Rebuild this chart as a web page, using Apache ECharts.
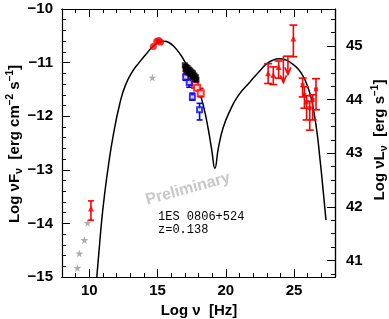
<!DOCTYPE html>
<html><head><meta charset="utf-8">
<script src="https://cdn.jsdelivr.net/npm/echarts@6/dist/echarts.min.js"></script>
<style>html,body{margin:0;padding:0;background:#fff}#c{width:389px;height:319px}</style>
</head><body><div id="c"></div>
<script>
// ---- data (log nu [Hz], log nuFnu) ----
const xMajorTicks = [10, 15, 20, 25];
const xMinorTicks = [8,9,10,11,12,13,14,15,16,17,18,19,20,21,22,23,24,25,26,27,28];
const rightMajorTicks = [41, 42, 43, 44, 45];
const rightMinorTicks = [40.75,41,41.25,41.5,41.75,42,42.25,42.5,42.75,43,43.25,43.5,43.75,44,44.25,44.5,44.75,45,45.25,45.5];
const lumOffset = 55.69; // log nuL_nu = log nuF_nu + offset

const modelCurve = [[10.55,-15.0],[10.7,-14.55],[10.91,-13.94],[11.1,-13.5],[11.39,-12.94],[11.76,-12.35],[12.25,-11.75],[12.65,-11.42],[13.2,-11.15],[13.65,-11.0],[14.2,-10.83],[14.7,-10.69],[15.2,-10.61],[15.5,-10.6],[15.8,-10.62],[16.2,-10.7],[16.65,-10.84],[17.1,-11.03],[17.6,-11.28],[18.1,-11.58],[18.4,-11.85],[18.7,-12.22],[18.97,-12.63],[19.2,-12.97],[19.45,-12.6],[19.8,-12.22],[20.3,-11.9],[20.9,-11.62],[21.77,-11.36],[22.5,-11.15],[23.0,-11.02],[23.5,-10.95],[23.9,-10.93],[24.4,-10.95],[24.9,-11.03],[25.3,-11.12],[25.68,-11.26],[26.0,-11.45],[26.29,-11.7],[26.66,-12.26],[26.9,-12.8],[27.1,-13.3],[27.34,-13.94]];

const archivalStars = [[9.12,-14.83],[9.27,-14.56],[9.64,-14.31],[9.88,-13.99],[14.62,-11.28]];
const opticalPts = [[14.69,-10.7],[14.94,-10.6],[15.1,-10.59],[15.22,-10.62]];
// [x, y, yLow, yHigh]
const radioPts = [[10.12,-13.72,-13.94,-13.58]];
const xrayRed = [[17.15,-11.2],[17.3,-11.27],[17.45,-11.3],[17.6,-11.36],[17.75,-11.42],[17.9,-11.47]];
const xrayRedErr = [[18.16,-11.57,-11.64,-11.48]];
const xrayBlack = [[17.0,-11.05],[17.05,-11.12],[17.1,-11.08],[17.15,-11.15],[17.2,-11.1],[17.25,-11.18],[17.3,-11.13],[17.35,-11.2],[17.4,-11.15],[17.45,-11.22],[17.5,-11.18],[17.55,-11.25],[17.6,-11.2],[17.65,-11.27],[17.7,-11.24],[17.75,-11.3],[17.8,-11.27],[17.85,-11.32]];
const xrayBlue = [[17.06,-11.27,-11.33,-11.21],[17.32,-11.37,-11.46,-11.29],[17.55,-11.64,-11.7,-11.57],[18.08,-11.88,-12.07,-11.76]];
const fermiPts = [[23.1,-11.2,-11.39,-11.02],[23.48,-11.23,-11.41,-11.08],[23.87,-11.08,-11.29,-10.97],[24.95,-10.55,-10.89,-10.3]];
// upper limits [x, yTop, yTip]
const fermiUL = [[24.22,-10.88,-11.37],[24.55,-10.88,-11.22]];
const fermiBin = [[24.22,24.95,-10.88]];
const magicPts = [[25.63,-11.42,-11.64,-11.29],[25.76,-11.6,-11.85,-11.45],[25.92,-11.74,-12.07,-11.62],[26.15,-11.85,-12.26,-11.72],[26.37,-11.7,-12.07,-11.6],[26.61,-11.5,-11.88,-11.3]];

const starPath = 'path://M50,0 L61,35 L98,35 L68,57 L79,91 L50,70 L21,91 L32,57 L2,35 L39,35 Z';
const FONT = 'Liberation Sans';

function errBars(color, cap) {
  return function (params, api) {
    const x = api.value(0), lo = api.value(2), hi = api.value(3);
    const a = api.coord([x, lo]), b = api.coord([x, hi]);
    const st = {stroke: color, lineWidth: 1.6};
    return {type: 'group', children: [
      {type: 'line', shape: {x1: a[0], y1: a[1], x2: b[0], y2: b[1]}, style: st},
      {type: 'line', shape: {x1: a[0]-cap, y1: a[1], x2: a[0]+cap, y2: a[1]}, style: st},
      {type: 'line', shape: {x1: b[0]-cap, y1: b[1], x2: b[0]+cap, y2: b[1]}, style: st}
    ]};
  };
}
function ulRender(params, api) {
  const x = api.value(0), top = api.value(1), tip = api.value(2);
  const a = api.coord([x, top]), b = api.coord([x, tip]);
  const st = {stroke: '#ff0000', lineWidth: 1.6, fill: 'none'};
  return {type: 'group', children: [
    {type: 'line', shape: {x1: a[0], y1: a[1], x2: b[0], y2: b[1]}, style: st},
    {type: 'polyline', shape: {points: [[b[0]-3, b[1]-7], [b[0], b[1]], [b[0]+3, b[1]-7]]}, style: st}
  ]};
}
function binRender(params, api) {
  const a = api.coord([api.value(0), api.value(2)]), b = api.coord([api.value(1), api.value(2)]);
  return {type: 'line', shape: {x1: a[0], y1: a[1], x2: b[0], y2: b[1]}, style: {stroke: '#ff0000', lineWidth: 1.6}};
}

const axCommon = {min: 8, max: 28, splitLine: {show: false}, axisLine: {show: true, lineStyle: {color: '#000', width: 1.2}}};
const tickLabel = {fontFamily: FONT, fontSize: 15, fontWeight: 'bold', color: '#000'};
const chart = echarts.init(document.getElementById('c'));
chart.setOption({
  animation: false,
  grid: {left: 62, right: 54, top: 9, bottom: 42},
  xAxis: [
    Object.assign({type: 'value', position: 'bottom',
      axisTick: {inside: true, length: 8, customValues: xMajorTicks, lineStyle: {color: '#000'}},
      axisLabel: Object.assign({customValues: xMajorTicks, margin: 6}, tickLabel)}, axCommon),
    Object.assign({type: 'value', position: 'bottom',
      axisTick: {inside: true, length: 4, customValues: xMinorTicks, lineStyle: {color: '#000'}},
      axisLabel: {show: false}}, axCommon),
    Object.assign({type: 'value', position: 'top',
      axisTick: {inside: true, length: 8, customValues: xMajorTicks, lineStyle: {color: '#000'}},
      axisLabel: {show: false}}, axCommon),
    Object.assign({type: 'value', position: 'top',
      axisTick: {inside: true, length: 4, customValues: xMinorTicks, lineStyle: {color: '#000'}},
      axisLabel: {show: false}}, axCommon)
  ],
  yAxis: [
    {type: 'value', position: 'left', min: -15, max: -10, interval: 1, splitLine: {show: false},
      axisLine: {show: true, lineStyle: {color: '#000', width: 1.2}},
      axisTick: {inside: true, length: 8, lineStyle: {color: '#000'}},
      minorTick: {show: true, splitNumber: 5, length: 4, lineStyle: {color: '#000'}},
      axisLabel: Object.assign({margin: 9, formatter: v => (v < 0 ? '\u2212' + Math.abs(v) : String(v))}, tickLabel)},
    {type: 'value', position: 'right', min: -15 + lumOffset, max: -10 + lumOffset, splitLine: {show: false},
      axisLine: {show: true, lineStyle: {color: '#000', width: 1.2}},
      axisTick: {inside: true, length: 8, customValues: rightMajorTicks, lineStyle: {color: '#000'}},
      axisLabel: Object.assign({customValues: rightMajorTicks, margin: 11}, tickLabel)},
    {type: 'value', position: 'right', min: -15 + lumOffset, max: -10 + lumOffset, splitLine: {show: false},
      axisLine: {show: true, lineStyle: {color: '#000', width: 1.2}},
      axisTick: {inside: true, length: 4, customValues: rightMinorTicks, lineStyle: {color: '#000'}},
      axisLabel: {show: false}}
  ],
  series: [
    {type: 'line', data: modelCurve, smooth: 0.5, showSymbol: false, clip: true,
      lineStyle: {color: '#000', width: 1.5}, z: 2},
    {type: 'scatter', data: archivalStars, symbol: starPath, symbolSize: 8, itemStyle: {color: '#9a9a9a'}, z: 3},
    {type: 'custom', renderItem: errBars('#ff0000', 3), data: radioPts, encode: {x: 0, y: [1, 2, 3]}, z: 3},
    {type: 'scatter', data: radioPts.map(d => [d[0], d[1]]), symbol: 'triangle', symbolSize: 6, itemStyle: {color: '#ff0000'}, z: 4},
    {type: 'scatter', data: opticalPts, symbol: 'circle', symbolSize: 7, itemStyle: {color: '#ff0000'}, z: 4},
    {type: 'custom', renderItem: errBars('#ff0000', 3), data: xrayRedErr, encode: {x: 0, y: [1, 2, 3]}, z: 3},
    {type: 'scatter', data: xrayRed.concat(xrayRedErr.map(d => [d[0], d[1]])), symbol: 'emptyRect', symbolSize: 6,
      itemStyle: {color: '#ff0000', borderWidth: 1.5}, z: 4},
    {type: 'custom', renderItem: errBars('#0000ff', 3), data: xrayBlue, encode: {x: 0, y: [1, 2, 3]}, z: 3},
    {type: 'scatter', data: xrayBlue.map(d => [d[0], d[1]]), symbol: 'emptyRect', symbolSize: 5,
      itemStyle: {color: '#0000ff', borderWidth: 1.5}, z: 4},
    {type: 'scatter', data: xrayBlack, symbol: 'rect', symbolSize: 6, itemStyle: {color: '#000'}, z: 5},
    {type: 'custom', renderItem: errBars('#ff0000', 4), data: fermiPts, encode: {x: 0, y: [1, 2, 3]}, z: 3},
    {type: 'scatter', data: fermiPts.map(d => [d[0], d[1]]), symbol: 'triangle', symbolSize: 6, itemStyle: {color: '#ff0000'}, z: 4},
    {type: 'custom', renderItem: ulRender, data: fermiUL, encode: {x: 0, y: [1, 2]}, z: 3},
    {type: 'custom', renderItem: binRender, data: fermiBin, encode: {x: [0, 1], y: 2}, z: 3},
    {type: 'custom', renderItem: errBars('#ff0000', 4), data: magicPts, encode: {x: 0, y: [1, 2, 3]}, z: 3},
    {type: 'scatter', data: magicPts.map(d => [d[0], d[1]]), symbol: 'rect', symbolSize: 4, itemStyle: {color: '#ff0000'}, z: 4}
  ],
  graphic: [
    {type: 'text', x: 15, y: 144, rotation: Math.PI / 2,
      style: {text: 'Log \u03BDF{sub|\u03BD}  [erg cm{sup|\u22122} s{sup|\u22121}]', font: 'bold 15px "Liberation Sans"', fill: '#000',
        align: 'center', verticalAlign: 'middle',
        rich: {sub: {fontSize: 11, fontWeight: 'bold', fontFamily: FONT, verticalAlign: 'bottom', lineHeight: 19},
               sup: {fontSize: 10, fontWeight: 'bold', fontFamily: FONT, verticalAlign: 'top', lineHeight: 19}}}},
    {type: 'text', x: 380, y: 140, rotation: Math.PI / 2,
      style: {text: 'Log \u03BDL{sub|\u03BD}  [erg s{sup|\u22121}]', font: 'bold 15px "Liberation Sans"', fill: '#000',
        align: 'center', verticalAlign: 'middle',
        rich: {sub: {fontSize: 11, fontWeight: 'bold', fontFamily: FONT, verticalAlign: 'bottom', lineHeight: 19},
               sup: {fontSize: 10, fontWeight: 'bold', fontFamily: FONT, verticalAlign: 'top', lineHeight: 19}}}},
    {type: 'text', x: 199, y: 311,
      style: {text: 'Log \u03BD  [Hz]', font: 'bold 15px "Liberation Sans"', fill: '#000', align: 'center', verticalAlign: 'middle'}},
    {type: 'text', x: 188, y: 189, rotation: 0.27,
      style: {text: 'Preliminary', font: 'bold 16px "Liberation Sans"', fill: '#c8c8c8', align: 'center', verticalAlign: 'middle'}},
    {type: 'text', x: 158, y: 217,
      style: {text: '1ES 0806+524', font: '12px "Liberation Mono"', fill: '#000', align: 'left', verticalAlign: 'middle'}},
    {type: 'text', x: 158, y: 230,
      style: {text: 'z=0.138', font: '12px "Liberation Mono"', fill: '#000', align: 'left', verticalAlign: 'middle'}}
  ]
});
</script></body></html>
